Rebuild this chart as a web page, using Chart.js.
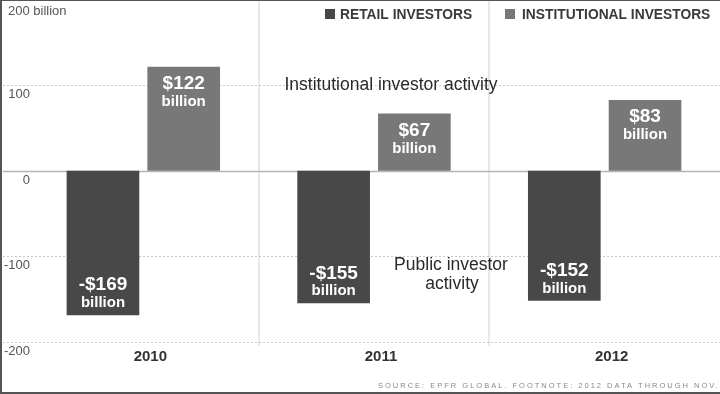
<!DOCTYPE html>
<html>
<head>
<meta charset="utf-8">
<script src="https://cdn.jsdelivr.net/npm/chart.js@4.4.1/dist/chart.umd.min.js"></script>
<style>
  html, body { margin: 0; padding: 0; background: #fff; }
  #wrap { position: relative; width: 720px; height: 394px; }
</style>
</head>
<body>
<div id="wrap"><canvas id="myChart" width="720" height="394"></canvas></div>
<script>
const years = ["2010", "2011", "2012"];
const retail = [-169, -155, -152];
const institutional = [122, 67, 83];
const yTicks = [200, 100, 0, -100, -200];
const yTickLabels = ["200 billion", "100", "0", "-100", "-200"];

const retailColor = "#484848";
const instColor = "#787878";

// dotted gridlines + y labels, drawn across the full width
const gridPlugin = {
  id: "gridLines",
  beforeDatasetsDraw(chart) {
    const ctx = chart.ctx;
    const y = chart.scales.y;
    ctx.save();
    yTicks.forEach((v, i) => {
      const py = Math.round(y.getPixelForValue(v)) + 0.5;
      ctx.beginPath();
      if (v === 0) {
        ctx.setLineDash([]);
        ctx.strokeStyle = "#b4b4b4";
        ctx.lineWidth = 1.5;
      } else {
        ctx.setLineDash([2, 2]);
        ctx.strokeStyle = "#c8c8c8";
        ctx.lineWidth = 1;
      }
      ctx.moveTo(3, py);
      ctx.lineTo(720, py);
      ctx.stroke();

      ctx.fillStyle = "#555";
      ctx.font = "13px 'Liberation Sans', Arial, sans-serif";
      ctx.textBaseline = "middle";
      if (i === 0) {
        ctx.textAlign = "left";
        ctx.fillText(yTickLabels[i], 8, py + 11);
      } else {
        ctx.textAlign = "right";
        ctx.fillText(yTickLabels[i], 30, py + 9);
      }
    });
    ctx.restore();
  },
};

// labels inside bars, legend, annotations, footnote, frame
const textPlugin = {
  id: "texts",
  afterDatasetsDraw(chart) {
    const ctx = chart.ctx;
    ctx.save();
    ctx.fillStyle = "#fff";
    ctx.textAlign = "center";
    ctx.textBaseline = "middle";
    chart.data.datasets.forEach((ds, di) => {
      const meta = chart.getDatasetMeta(di);
      meta.data.forEach((el, i) => {
        const v = ds.data[i];
        const main = (v < 0 ? "-$" : "$") + Math.abs(v);
        if (v >= 0) {
          ctx.font = "bold 19px 'Liberation Sans', Arial, sans-serif";
          ctx.fillText(main, el.x, el.y + 17);
          ctx.font = "bold 15px 'Liberation Sans', Arial, sans-serif";
          ctx.fillText("billion", el.x, el.y + 35);
        } else {
          ctx.font = "bold 19px 'Liberation Sans', Arial, sans-serif";
          ctx.fillText(main, el.x, el.y - 30);
          ctx.font = "bold 15px 'Liberation Sans', Arial, sans-serif";
          ctx.fillText("billion", el.x, el.y - 12);
        }
      });
    });

    // annotations
    ctx.fillStyle = "#2a2a2a";
    ctx.font = "17.5px 'Liberation Sans', Arial, sans-serif";
    ctx.fillText("Institutional investor activity", 391, 85);
    ctx.fillText("Public investor", 451, 265);
    ctx.fillText("activity", 452, 284);

    // legend
    ctx.textAlign = "left";
    ctx.font = "bold 13.8px 'Liberation Sans', Arial, sans-serif";
    ctx.fillStyle = retailColor;
    ctx.fillRect(325, 9, 10, 10);
    ctx.fillStyle = "#3a3a3a";
    ctx.fillText("RETAIL INVESTORS", 340, 15);
    ctx.fillStyle = instColor;
    ctx.fillRect(505, 9, 10, 10);
    ctx.fillStyle = "#3a3a3a";
    ctx.fillText("INSTITUTIONAL INVESTORS", 522, 15);

    // footnote
    ctx.fillStyle = "#888";
    ctx.font = "7.5px 'Liberation Sans', Arial, sans-serif";
    ctx.letterSpacing = "2px";
    ctx.fillText("SOURCE: EPFR GLOBAL. FOOTNOTE: 2012 DATA THROUGH NOV. 30", 378, 386);
    ctx.letterSpacing = "0px";

    // frame
    ctx.fillStyle = "#555";
    ctx.fillRect(0, 0, 720, 1);
    ctx.fillRect(0, 0, 2, 394);
    ctx.fillRect(0, 392, 720, 2);
    ctx.restore();
  },
};

const ctx = document.getElementById("myChart").getContext("2d");
const myChart = new Chart(ctx, {
  type: "bar",
  data: {
    labels: years,
    datasets: [
      {
        label: "RETAIL INVESTORS",
        data: retail,
        backgroundColor: retailColor,
        categoryPercentage: 0.7,
        barPercentage: 0.9,
      },
      {
        label: "INSTITUTIONAL INVESTORS",
        data: institutional,
        backgroundColor: instColor,
        categoryPercentage: 0.7,
        barPercentage: 0.9,
      },
    ],
  },
  options: {
    responsive: false,
    animation: false,
    layout: { padding: { left: 28, right: 0, top: 0, bottom: 0 } },
    plugins: {
      legend: { display: false },
      tooltip: { enabled: false },
    },
    scales: {
      x: {
        grid: {
          offset: true,
          drawTicks: false,
          color: (c) => (c.index === 1 || c.index === 2 ? "#e8e8e8" : "rgba(0,0,0,0)"),
          lineWidth: 2,
        },
        border: { display: false },
        ticks: {
          padding: 2,
          labelOffset: 7,
          color: "#333",
          font: { family: "'Liberation Sans', Arial, sans-serif", size: 15, weight: "bold" },
        },
        afterFit(scale) {
          scale.height = 48;
        },
      },
      y: {
        display: false,
        min: -205,
        max: 200,
      },
    },
  },
  plugins: [gridPlugin, textPlugin],
});
</script>
</body>
</html>
